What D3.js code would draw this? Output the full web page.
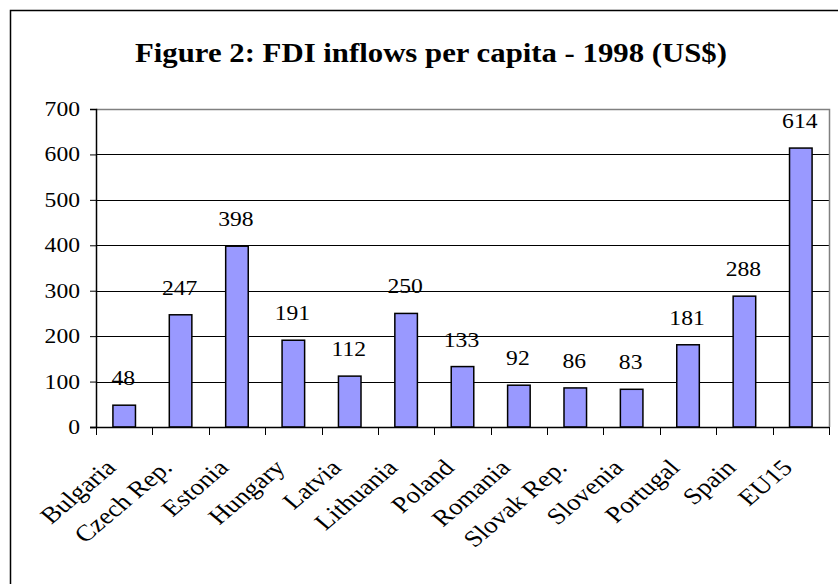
<!DOCTYPE html>
<html>
<head>
<meta charset="utf-8">
<script src="https://cdn.jsdelivr.net/npm/d3@7"></script>
<style>
  html, body { margin: 0; padding: 0; background: #fff; }
  svg { display: block; }
  text { font-family: "Liberation Serif", "Times New Roman", serif; fill: #000; }
</style>
</head>
<body>
<svg id="chart" width="838" height="584"></svg>
<script>
// FDI inflows per capita, 1998 (US$)
const categories = ["Bulgaria", "Czech Rep.", "Estonia", "Hungary", "Latvia", "Lithuania",
  "Poland", "Romania", "Slovak Rep.", "Slovenia", "Portugal", "Spain", "EU15"];
const values = [48, 247, 398, 191, 112, 250, 133, 92, 86, 83, 181, 288, 614];
const yTicks = [0, 100, 200, 300, 400, 500, 600, 700];
const titleText = "Figure 2: FDI inflows per capita - 1998 (US$)";

const svg = d3.select("#chart");
const plot = { left: 96, right: 829, top: 109, bottom: 427 };
const stretch = 1.18;   // text is drawn slightly wide
const fs = 20;          // numbers
const fsCat = 23;       // category labels

// outer chart frame (runs off the right and bottom edges)
svg.append("rect")
  .attr("x", 10.5).attr("y", 10.5)
  .attr("width", 900).attr("height", 700)
  .attr("fill", "#fff").attr("stroke", "#000").attr("stroke-width", 1.5);

const x = d3.scaleBand().domain(categories).range([plot.left, plot.right]);
const y = d3.scaleLinear().domain([0, 700]).range([plot.bottom, plot.top]);

// title
svg.append("text")
  .attr("x", 431).attr("y", 62)
  .attr("text-anchor", "middle")
  .attr("font-size", 28).attr("font-weight", "bold")
  .attr("textLength", 592).attr("lengthAdjust", "spacingAndGlyphs")
  .text(titleText);

// gridlines
svg.append("g").selectAll("line")
  .data(yTicks.filter(d => d > 0 && d < 700))
  .join("line")
  .attr("x1", plot.left).attr("x2", plot.right)
  .attr("y1", d => Math.round(y(d)) + 0.5).attr("y2", d => Math.round(y(d)) + 0.5)
  .attr("stroke", "#000").attr("stroke-width", 1);

// plot-area border (top and right)
svg.append("path")
  .attr("d", `M${plot.left},${plot.top + 0.5}H${plot.right + 0.5}V${plot.bottom}`)
  .attr("fill", "none").attr("stroke", "#808080").attr("stroke-width", 1.5);

// bars
const bw = x.bandwidth() * 0.4;
svg.append("g").selectAll("rect")
  .data(values)
  .join("rect")
  .attr("x", (d, i) => x(categories[i]) + x.bandwidth() / 2 - bw / 2)
  .attr("y", d => y(d))
  .attr("width", bw)
  .attr("height", d => y(0) - y(d))
  .attr("fill", "#9999FF").attr("stroke", "#000").attr("stroke-width", 1.5);

// value labels
svg.append("g").selectAll("text")
  .data(values)
  .join("text")
  .attr("transform", (d, i) => `translate(${x(categories[i]) + x.bandwidth() / 2 - 1},${y(d) - 20}) scale(${stretch},1)`)
  .attr("text-anchor", "middle")
  .attr("font-size", fs)
  .text(d => d);

// y axis
const yAxis = d3.axisLeft(y).tickValues(yTicks).tickSize(6).tickFormat(() => "");
const gy = svg.append("g").attr("transform", `translate(${plot.left},0)`).call(yAxis);
gy.select(".domain").attr("stroke", "#000").attr("stroke-width", 1.5);
gy.selectAll(".tick line").attr("stroke", "#000");
svg.append("g").selectAll("text")
  .data(yTicks)
  .join("text")
  .attr("transform", d => `translate(80,${y(d)}) scale(${stretch},1)`)
  .attr("text-anchor", "end")
  .attr("dy", "0.35em")
  .attr("font-size", fs)
  .text(d => d);

// x axis with ticks on category boundaries
svg.append("line")
  .attr("x1", plot.left - 6).attr("x2", plot.right)
  .attr("y1", plot.bottom + 0.5).attr("y2", plot.bottom + 0.5)
  .attr("stroke", "#000").attr("stroke-width", 1.5);
const bounds = categories.map(c => x(c)).concat([plot.right]);
svg.append("g").selectAll("line")
  .data(bounds)
  .join("line")
  .attr("x1", d => Math.round(d) + 0.5).attr("x2", d => Math.round(d) + 0.5)
  .attr("y1", plot.bottom).attr("y2", plot.bottom + 8)
  .attr("stroke", "#000").attr("stroke-width", 1);

// rotated category labels
svg.append("g").selectAll("text")
  .data(categories)
  .join("text")
  .attr("transform", c => `translate(${x(c) + x.bandwidth() / 2 - 7},${plot.bottom + 42}) scale(${stretch},1) rotate(-45)`)
  .attr("text-anchor", "end")
  .attr("font-size", fsCat)
  .text(c => c);
</script>
</body>
</html>
